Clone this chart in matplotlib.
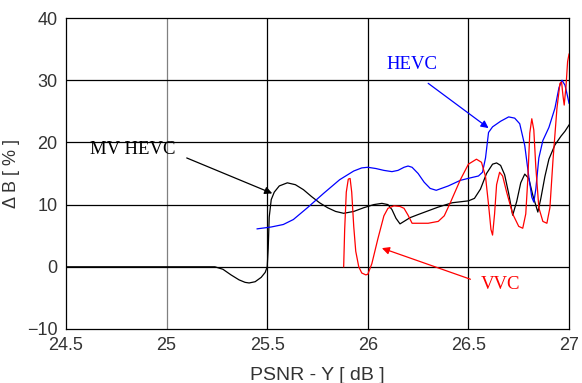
import matplotlib
matplotlib.use("Agg")
import matplotlib.pyplot as plt

# PSNR-Y [dB] vs bitrate change [%]
mv_hevc_x = [24.5, 25.24, 25.28, 25.32, 25.36, 25.39, 25.41, 25.44, 25.47, 25.49, 25.5, 25.505,
             25.51, 25.52, 25.535, 25.56, 25.6, 25.64, 25.68, 25.72, 25.76, 25.8, 25.84, 25.88,
             25.93, 25.98, 26.03, 26.07, 26.1, 26.12, 26.14, 26.16, 26.18, 26.21, 26.25, 26.3,
             26.35, 26.42, 26.5, 26.53, 26.56, 26.59, 26.62, 26.64, 26.66, 26.68, 26.7, 26.72,
             26.74, 26.76, 26.78, 26.8, 26.82, 26.845, 26.86, 26.88, 26.9, 26.93, 26.96, 26.98,
             27.0]
mv_hevc_y = [0, 0, -0.4, -1.3, -2.1, -2.5, -2.6, -2.4, -1.7, -0.9, 0, 3,
             8, 10.8, 12.0, 13.0, 13.5, 13.2, 12.4, 11.3, 10.3, 9.5, 8.9, 8.6,
             8.9, 9.5, 10.0, 10.2, 10.0, 9.2, 7.8, 6.9, 7.3, 7.9, 8.4, 9.0,
             9.6, 10.3, 10.6, 11.0, 12.5, 15.0, 16.5, 16.7, 16.3, 14.8, 11.8, 8.3,
             10.5, 13.5, 14.9, 14.2, 11.5, 8.8, 11.0, 14.5, 17.3, 19.6, 21.0, 21.8,
             22.8]

hevc_x = [25.45, 25.52, 25.58, 25.63, 25.7, 25.78, 25.86, 25.93, 25.97, 26.0, 26.04, 26.08,
          26.12, 26.15, 26.18, 26.2, 26.22, 26.25, 26.28, 26.31, 26.34, 26.4, 26.46, 26.51,
          26.55, 26.57, 26.585, 26.6, 26.62, 26.66, 26.7, 26.73, 26.755, 26.78, 26.8, 26.815,
          26.825, 26.835, 26.85, 26.87, 26.9, 26.93, 26.95, 26.965, 26.98, 26.99, 27.0]
hevc_y = [6.1, 6.4, 6.8, 7.6, 9.5, 11.8, 14.0, 15.4, 15.9, 16.0, 15.8, 15.5,
          15.3, 15.5, 16.0, 16.2, 16.0, 15.0, 13.6, 12.6, 12.3, 13.0, 13.9, 14.3,
          14.6, 15.2, 17.5, 21.6, 22.5, 23.4, 24.1, 23.9, 23.0, 19.5, 14.5, 11.2,
          10.4, 12.5, 17.5, 20.3, 22.4, 25.5, 28.8, 30.0, 29.2, 27.8, 26.3]

vvc_x = [25.88, 25.885, 25.893, 25.903, 25.912, 25.92, 25.93, 25.94, 25.955, 25.97, 25.99, 26.0,
         26.02, 26.05, 26.08, 26.1, 26.13, 26.16, 26.18, 26.2, 26.22, 26.24, 26.27, 26.3,
         26.35, 26.38, 26.41, 26.46, 26.5, 26.54, 26.565, 26.585, 26.6, 26.612, 26.62, 26.63,
         26.64, 26.655, 26.67, 26.69, 26.72, 26.75, 26.77, 26.785, 26.795, 26.805, 26.815, 26.825,
         26.835, 26.85, 26.87, 26.89, 26.905, 26.92, 26.94, 26.955, 26.963, 26.97, 26.976, 26.985,
         26.993, 27.0]
vvc_y = [0, 6, 12.0, 14.1, 14.2, 12.0, 6.5, 2.5, 0.0, -1.0, -1.3, -1.2,
         0.5, 4.5, 8.2, 9.4, 9.8, 9.7, 9.4, 8.3, 7.0, 7.0, 7.0, 7.0,
         7.3, 8.2, 10.3, 14.0, 16.5, 17.3, 16.8, 14.5, 10.0, 6.0, 5.1, 8.5,
         13.2, 15.2, 14.6, 12.0, 8.5, 6.5, 6.2, 8.5, 14.0, 21.5, 23.8, 22.0,
         16.0, 9.5, 7.3, 7.0, 9.5, 17.0, 25.5, 29.5, 29.7, 27.5, 26.0, 29.0,
         33.0, 34.2]

x_ticks = [24.5, 25, 25.5, 26, 26.5, 27]
x_tick_labels = ["24.5", "25", "25.5", "26", "26.5", "27"]
y_ticks = [-10, 0, 10, 20, 30, 40]

fig = plt.figure(figsize=(5.82, 3.83), dpi=100)
ax = fig.add_axes([0.1134, 0.141, 0.8643, 0.812])

sans = ["Liberation Sans", "DejaVu Sans"]
serif = ["Liberation Serif", "DejaVu Serif"]

for xv in x_ticks[1:-1]:
    ax.axvline(xv, color="#808080" if xv == 25 else "black", lw=0.9, zorder=1)
for yv in y_ticks[1:-1]:
    ax.axhline(yv, color="black", lw=0.9, zorder=1)

ax.plot(mv_hevc_x, mv_hevc_y, color="black", lw=0.9, zorder=3)
ax.plot(hevc_x, hevc_y, color="blue", lw=0.9, zorder=3)
ax.plot(vvc_x, vvc_y, color="red", lw=0.9, zorder=3)

ax.set_xlim(24.5, 27)
ax.set_ylim(-10, 40)
ax.set_xticks(x_ticks)
ax.set_xticklabels(x_tick_labels)
ax.set_yticks(y_ticks)
ax.tick_params(length=0, labelsize=13, pad=6)
for lab in ax.get_xticklabels() + ax.get_yticklabels():
    lab.set_family(sans)
    lab.set_color("#333333")
for sp in ax.spines.values():
    sp.set_linewidth(0.9)

ax.set_xlabel("PSNR - Y [ dB ]", family=sans, fontsize=14, color="#333333", labelpad=9)
ax.set_ylabel("Δ B [ % ]", family=sans, fontsize=13, color="#333333", labelpad=5)

# Series labels
ax.text(24.62, 18.8, "MV HEVC", fontsize=13.5, family=serif, color="black", va="center", ha="left")
ax.text(26.095, 32.6, "HEVC", fontsize=13.5, family=serif, color="blue", va="center", ha="left")
ax.text(26.56, -2.9, "VVC", fontsize=13.5, family=serif, color="red", va="center", ha="left")

# Pointer arrows
arrow = dict(arrowstyle="-|>", lw=0.9, shrinkA=0, shrinkB=0, mutation_scale=11)
ax.annotate("", xy=(25.525, 11.8), xytext=(25.1, 17.5),
            arrowprops=dict(arrow, color="black"))
ax.annotate("", xy=(26.6, 22.3), xytext=(26.3, 29.5),
            arrowprops=dict(arrow, color="blue"))
ax.annotate("", xy=(26.07, 3.0), xytext=(26.51, -2.0),
            arrowprops=dict(arrow, color="red"))

fig.savefig("out.png", dpi=100)
